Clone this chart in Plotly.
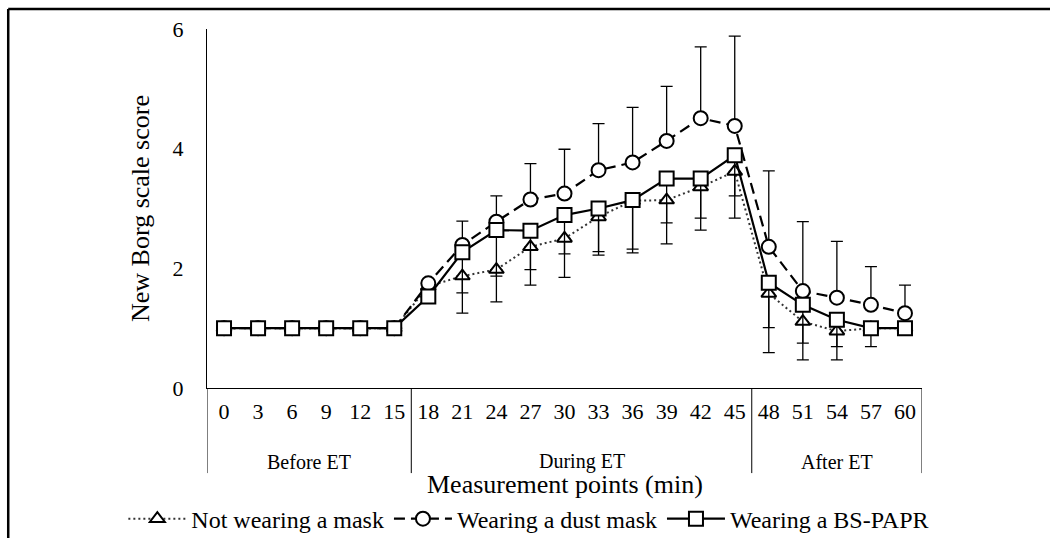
import plotly.graph_objects as go

minutes = ["0", "3", "6", "9", "12", "15", "18", "21", "24", "27", "30",
           "33", "36", "39", "42", "45", "48", "51", "54", "57", "60"]
phases = ["Before ET"] * 6 + ["During ET"] * 10 + ["After ET"] * 5

no_mask = [1.0, 1.0, 1.0, 1.0, 1.0, 1.0, 1.70, 1.87, 1.98, 2.36, 2.50,
           2.86, 3.13, 3.14, 3.36, 3.62, 1.58, 1.11, 0.95, 1.00, 1.00]
no_mask_sd = [0, 0, 0, 0, 0, 0, 0, 0.28, 0.11, 0.38, 0.26,
              0.58, 0.81, 0.38, 0.52, 0.41, 0.57, 0.36, 0.26, 0, 0]

dust_mask = [1.0, 1.0, 1.0, 1.0, 1.0, 1.0, 1.75, 2.39, 2.78, 3.15, 3.25,
             3.64, 3.77, 4.13, 4.51, 4.38, 2.36, 1.62, 1.51, 1.39, 1.25]
dust_mask_sd = [0, 0, 0, 0, 0, 0, 0, 0.40, 0.43, 0.60, 0.74,
                0.78, 0.92, 0.91, 1.19, 1.50, 1.27, 1.16, 0.94, 0.64, 0.47]

papr = [1.0, 1.0, 1.0, 1.0, 1.0, 1.0, 1.53, 2.27, 2.64, 2.63, 2.89,
        3.00, 3.14, 3.50, 3.50, 3.89, 1.76, 1.39, 1.14, 1.00, 1.00]
papr_sd = [0, 0, 0, 0, 0, 0, 0, 1.02, 1.20, 0.91, 1.04,
           0.78, 0.88, 1.09, 0.86, 1.05, 1.17, 0.92, 0.67, 0.31, 0]

FONT = "Liberation Serif, Times New Roman, serif"
zeros = [0] * len(minutes)

fig = go.Figure()
fig.add_trace(go.Scatter(
    x=minutes, y=no_mask, name="Not wearing a mask", mode="lines+markers",
    line=dict(color="#333333", width=2, dash="2px,3px"),
    marker=dict(symbol="triangle-up", size=13, color="white",
                line=dict(color="black", width=2)),
    error_y=dict(type="data", array=zeros, arrayminus=no_mask_sd,
                 symmetric=False, color="black", thickness=1.3, width=6),
))
fig.add_trace(go.Scatter(
    x=minutes, y=dust_mask, name="Wearing a dust mask", mode="lines+markers",
    line=dict(color="black", width=2.2, dash="11px,6px"),
    marker=dict(symbol="circle", size=14, color="white",
                line=dict(color="black", width=2)),
    error_y=dict(type="data", array=dust_mask_sd, arrayminus=zeros,
                 symmetric=False, color="black", thickness=1.3, width=6),
))
fig.add_trace(go.Scatter(
    x=minutes, y=papr, name="Wearing a BS-PAPR", mode="lines+markers",
    line=dict(color="black", width=2.2),
    marker=dict(symbol="square", size=14, color="white",
                line=dict(color="black", width=2)),
    error_y=dict(type="data", array=zeros, arrayminus=papr_sd,
                 symmetric=False, color="black", thickness=1.3, width=6),
))

# group dividers and group labels, derived from the phase list
shapes = []
annotations = []
groups = []
for i, p in enumerate(phases):
    if not groups or groups[-1][0] != p:
        groups.append([p, i, i])
    else:
        groups[-1][2] = i
for name, start, end in groups:
    shapes.append(dict(type="line", xref="x", yref="paper", x0=start - 0.5,
                       x1=start - 0.5, y0=0, y1=-0.237,
                       line=dict(color="black", width=1)))
    annotations.append(dict(text=name, xref="x", yref="paper",
                            x=(start + end) / 2, y=-0.205, showarrow=False,
                            xanchor="center", yanchor="middle",
                            font=dict(size=20, family=FONT)))
last = groups[-1][2]
shapes.append(dict(type="line", xref="x", yref="paper", x0=last + 0.5,
                   x1=last + 0.5, y0=0, y1=-0.237,
                   line=dict(color="black", width=1)))
annotations.append(dict(text="Measurement points (min)", xref="paper",
                        yref="paper", x=0.5, y=-0.27, showarrow=False,
                        xanchor="center", yanchor="middle",
                        font=dict(size=26, family=FONT)))
# figure frame
shapes += [
    dict(type="line", xref="paper", yref="paper", x0=-0.278, x1=1.25,
         y0=1.056, y1=1.056, line=dict(color="black", width=2.5)),
    dict(type="line", xref="paper", yref="paper", x0=-0.278, x1=-0.278,
         y0=1.056, y1=-0.5, line=dict(color="black", width=2.5)),
]

fig.update_layout(
    width=1050, height=538,
    margin=dict(l=207, r=128, t=29, b=150, autoexpand=False),
    paper_bgcolor="white", plot_bgcolor="white",
    font=dict(family=FONT, size=22, color="black"),
    showlegend=True,
    legend=dict(orientation="h", x=-0.117, xanchor="left", y=-0.365,
                yanchor="middle", font=dict(size=24, family=FONT),
                itemwidth=58, bgcolor="rgba(0,0,0,0)"),
    shapes=shapes,
    annotations=annotations,
)
fig.update_xaxes(
    type="category", range=[-0.5, len(minutes) - 0.5], showline=True,
    linecolor="black", linewidth=1, ticks="", showgrid=False,
    tickfont=dict(size=22, family=FONT), ticklabelstandoff=4,
)
fig.update_yaxes(
    range=[0, 6], dtick=2, showline=True, linecolor="black", linewidth=1,
    ticks="", showgrid=False, zeroline=False, ticklabelstandoff=18,
    tickfont=dict(size=22, family=FONT),
    title=dict(text="New Borg scale score", font=dict(size=26, family=FONT),
               standoff=15),
)

fig.write_html("out.html")
